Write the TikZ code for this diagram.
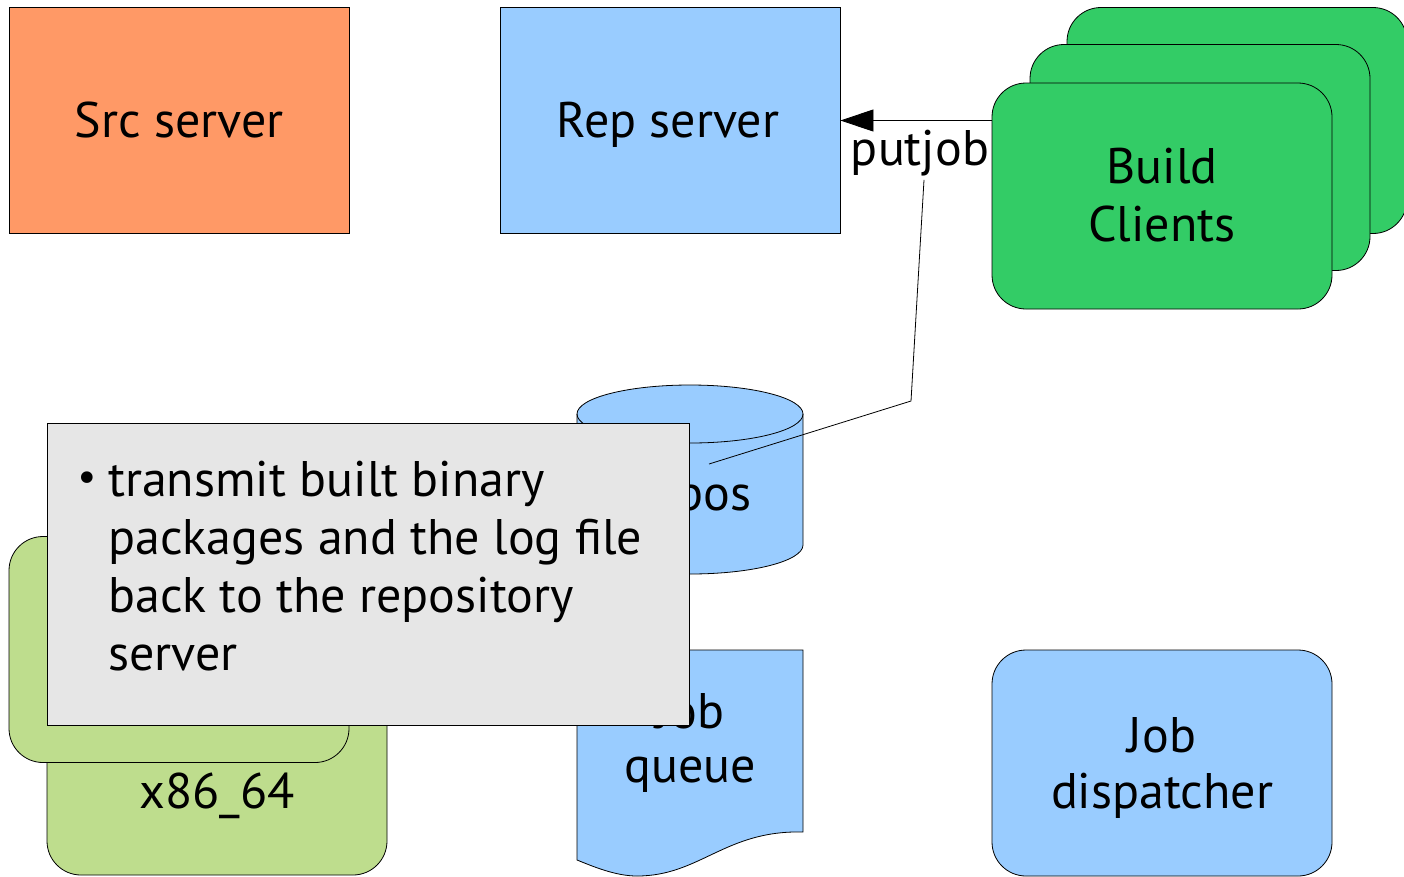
\documentclass[tikz,border=0pt]{standalone}
\usepackage{fontspec}
\setmainfont{PT Sans}
\newfontfamily\dotfont{DejaVu Sans}
\usetikzlibrary{arrows.meta}

\definecolor{srcorange}{RGB}{255,153,102}
\definecolor{paleblue}{RGB}{153,204,255}
\definecolor{clientgreen}{RGB}{51,204,102}
\definecolor{archgreen}{RGB}{190,221,141}
\definecolor{notegray}{RGB}{230,230,230}

\tikzset{
  box/.style={draw=black, line width=0.8pt, minimum width=340pt, minimum height=226pt,
    inner sep=0pt},
  sharpbox/.style={box, rectangle},
  roundbox/.style={box, rounded corners=34pt},
  label/.style={font=\fontsize{50}{58}\selectfont, inner sep=0pt, align=center},
  baselabel/.style={label, anchor=base},
  thin line/.style={draw=black, line width=0.8pt},
}

\begin{document}
\begin{tikzpicture}[x=1pt, y=-1pt]
\clip (0,0) rectangle (1404,876);
\useasboundingbox (0,0) rectangle (1404,876);

% servers
\node[sharpbox, fill=srcorange] (src) at (179,120.5) {};
\node[baselabel] (srctxt) at (179,137) {Src server};
\node[sharpbox, fill=paleblue] (rep) at (670,120.5) {};
\node[baselabel] (reptxt) at (668,137) {Rep server};

% stacked build clients
\node[roundbox, fill=clientgreen] (bc3) at (1237,120.5) {};
\node[roundbox, fill=clientgreen] (bc2) at (1200,157.5) {};
\node[roundbox, fill=clientgreen] (bc1) at (1162,196) {};
\node[label] (bctxt) at (1162,195) {Build\\Clients};

% putjob arrow
\draw[thin line, -{Triangle[length=33pt, width=22pt]}] (rep.east -| bc1.west) -- (rep.east);
\node[baselabel] (putjob) at (920,165) {putjob};

% repository cylinder
\path[thin line, fill=paleblue]
  (577,414) -- (577,545)
  .. controls (577,561) and (627.6,574) .. (690,574)
  .. controls (752.4,574) and (803,561) .. (803,545)
  -- (803,414)
  .. controls (803,398) and (752.4,385) .. (690,385)
  .. controls (627.6,385) and (577,398) .. (577,414) -- cycle;
\draw[thin line]
  (577,414) .. controls (577,430) and (627.6,443) .. (690,443)
  .. controls (752.4,443) and (803,430) .. (803,414);
\node[baselabel, anchor=base east] (repos) at (752,510) {repos};

% callout from the putjob label
\coordinate (bend) at (911,401);
\coordinate (tip) at (709,464);
\draw[thin line] (putjob.south) ++(4,4) -- (bend) -- (tip);

% job queue document
\path[thin line, fill=paleblue]
  (577,650) -- (803,650) -- (803,832)
  .. controls (725,830) and (700,876) .. (637,876)
  .. controls (615,876) and (592,866) .. (577,860) -- cycle;
\node[label, font=\fontsize{50}{54}\selectfont] (queue) at (690,742.5) {Job\\queue};

% dispatcher
\node[roundbox, fill=paleblue] (disp) at (1162,763) {};
\node[label, font=\fontsize{50}{56}\selectfont] (disptxt) at (1162,767.5) {Job\\dispatcher};

% architecture build hosts
\node[roundbox, fill=archgreen] (arch2) at (217,762) {};
\node[baselabel] (archtxt) at (217,808) {x86\_64};
\node[roundbox, fill=archgreen] (arch1) at (179,649.5) {};

% note
\node[draw=black, line width=0.8pt, fill=notegray, minimum width=642pt, minimum height=302pt,
  inner sep=0pt] (note) at (368,574) {};
\node[font=\fontsize{50}{58}\selectfont, anchor=north west, inner sep=0pt, align=left]
  (notetext) at (108,461) {transmit built binary\\packages and the log file\\back to the repository\\server};
\node[font=\dotfont\fontsize{40}{40}\selectfont, inner sep=0pt] (bullet) at (87,482) {•};
\end{tikzpicture}
\end{document}
